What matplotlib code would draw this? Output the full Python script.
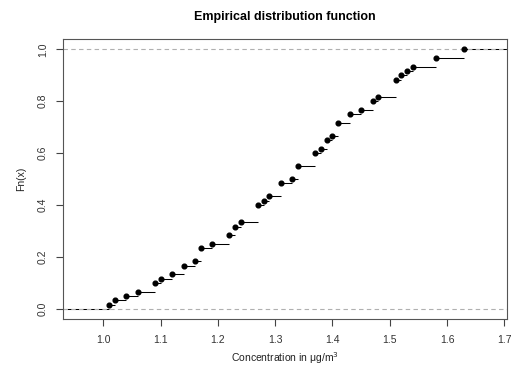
import numpy as np
import matplotlib
matplotlib.use('Agg')
import matplotlib.pyplot as plt

# concentration values (ug/m3), distinct values and how often each occurs
conc_values = [1.01, 1.02, 1.04, 1.06, 1.09, 1.10, 1.12, 1.14, 1.16, 1.17,
               1.19, 1.22, 1.23, 1.24, 1.27, 1.28, 1.29, 1.31, 1.33, 1.34,
               1.37, 1.38, 1.39, 1.40, 1.41, 1.43, 1.45, 1.47, 1.48, 1.51,
               1.52, 1.53, 1.54, 1.58, 1.63]
conc_counts = [1, 1, 1, 1, 2, 1, 1, 2, 1, 3,
               1, 2, 2, 1, 4, 1, 1, 3, 1, 3,
               3, 1, 2, 1, 3, 2, 1, 2, 1, 4,
               1, 1, 1, 2, 2]

x = np.array(conc_values)
fn = np.cumsum(conc_counts) / np.sum(conc_counts)

plt.rcParams['font.family'] = ['Liberation Sans', 'DejaVu Sans']

fig = plt.figure(figsize=(5.13, 3.71), dpi=100)
ax = fig.add_axes([63 / 513, 1 - 319.3 / 371, (506.7 - 63) / 513, (319.3 - 39) / 371])

xmin, xmax = 0.9297, 1.704
ax.set_xlim(xmin, xmax)
ax.set_ylim(-0.0397, 1.0397)

# horizontal steps
left = np.concatenate([[xmin], x])
right = np.concatenate([x, [xmax]])
levels = np.concatenate([[0], fn])
ax.hlines(levels, left, right, color='black', lw=0.75, zorder=2)

# grey dashed reference lines drawn over the steps
ax.axhline(0, color='#b0b0b0', ls=(0, (4, 3)), lw=0.8, zorder=2.5)
ax.axhline(1, color='#b0b0b0', ls=(0, (4, 3)), lw=0.8, zorder=2.5)

ax.plot(x, fn, 'o', color='black', ms=3.4, zorder=3)

ax.set_xticks(np.arange(1.0, 1.71, 0.1))
ax.set_xticklabels(['1.0', '1.1', '1.2', '1.3', '1.4', '1.5', '1.6', '1.7'])
ax.set_yticks(np.arange(0, 1.01, 0.2))
ax.set_yticklabels(['0.0', '0.2', '0.4', '0.6', '0.8', '1.0'], rotation=90, va='center')

ax.tick_params(direction='out', length=5, width=0.8, colors='#444444', labelsize=7.5,
               labelcolor='#333333', pad=6)
for s in ax.spines.values():
    s.set_color('#555555')
    s.set_linewidth(0.8)

ax.set_xlabel('Concentration in μg/m$^3$', fontsize=7.5, color='#222222', labelpad=4)
ax.set_ylabel('Fn(x)', fontsize=7.5, color='#222222', labelpad=8)
ax.set_title('Empirical distribution function', fontsize=9, fontweight='bold', pad=14)

fig.savefig('out.png', dpi=100)
